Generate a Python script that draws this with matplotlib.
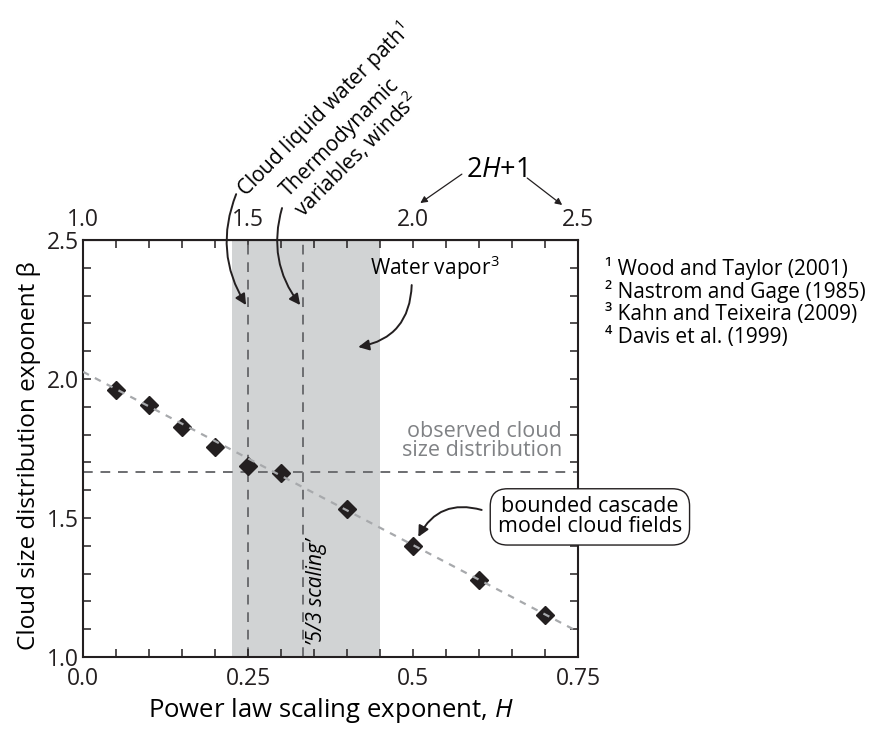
import numpy as np
import matplotlib
matplotlib.use("Agg")
import matplotlib.pyplot as plt
from matplotlib.ticker import MultipleLocator, FormatStrFormatter

plt.rcParams['font.family'] = ['Open Sans', 'DejaVu Sans']
plt.rcParams['mathtext.fontset'] = 'custom'
plt.rcParams['mathtext.rm'] = 'Open Sans'
plt.rcParams['mathtext.it'] = 'Open Sans:italic'

# bounded cascade model results
H_vals = [0.05, 0.10, 0.15, 0.20, 0.25, 0.30, 0.40, 0.50, 0.60, 0.70]
beta_vals = [1.960, 1.906, 1.829, 1.757, 1.686, 1.661, 1.531, 1.400, 1.277, 1.150]

# linear fit through the model points (end points)
fit_H = [0.0, 0.75]
fit_beta = [2.026, 1.091]

observed_beta = 5.0 / 3.0
lwp_H = 0.25          # cloud liquid water path
thermo_H = 1.0 / 3.0  # thermodynamic variables, winds
vapor_range = [0.225, 0.45]

refs = ["¹ Wood and Taylor (2001)",
        "² Nastrom and Gage (1985)",
        "³ Kahn and Teixeira (2009)",
        "⁴ Davis et al. (1999)"]

fig = plt.figure(figsize=(8.75, 7.3), dpi=100)
ax = fig.add_axes([0.0949, 0.1, 0.5657, 0.5712])

ax.axvspan(vapor_range[0], vapor_range[1], color='#d1d3d4', lw=0, zorder=0)
ax.axvline(lwp_H, color='#6d6e71', ls=(0, (5, 4)), lw=1.4, zorder=1)
ax.axvline(thermo_H, color='#6d6e71', ls=(0, (5, 4)), lw=1.4, zorder=1)
ax.axhline(observed_beta, color='#6d6e71', ls=(0, (5, 4)), lw=1.4, zorder=1)

ax.plot(H_vals, beta_vals, 'D', color='#231f20', ms=9, mec='#231f20', zorder=3)
ax.plot(fit_H, fit_beta, color='#a7a9ac', ls=(0, (3, 3)), lw=1.6, zorder=4)

ax.set_xlim(0, 0.75)
ax.set_ylim(1.0, 2.5)
ax.xaxis.set_major_locator(MultipleLocator(0.25))
ax.xaxis.set_minor_locator(MultipleLocator(0.05))
ax.yaxis.set_major_locator(MultipleLocator(0.5))
ax.yaxis.set_minor_locator(MultipleLocator(0.1))
ax.xaxis.set_major_formatter(lambda v, p: '0.0' if v == 0 else ('%g' % v))
ax.yaxis.set_major_formatter(FormatStrFormatter('%.1f'))
ax.tick_params(which='both', direction='in', length=6, width=1.1, right=True,
               labelsize=16.5, colors='#231f20')
ax.tick_params(axis='x', pad=7)
ax.tick_params(axis='y', pad=3)
for s in ax.spines.values():
    s.set_linewidth(1.5)
    s.set_color('#231f20')

top = ax.secondary_xaxis('top', functions=(lambda h: 2 * h + 1, lambda b: (b - 1) / 2))
top.xaxis.set_major_locator(MultipleLocator(0.5))
top.xaxis.set_minor_locator(MultipleLocator(0.1))
top.xaxis.set_major_formatter(FormatStrFormatter('%.1f'))
top.tick_params(which='both', direction='in', length=6, width=1.1, labelsize=16.5,
                pad=6, colors='#231f20')

ax.set_xlabel('Power law scaling exponent, $H$', fontsize=18.5, labelpad=4)
ax.set_ylabel('Cloud size distribution exponent β', fontsize=17.5)
ax.yaxis.set_label_coords(-0.085, 0.482)

arrow = dict(arrowstyle='-|>', color='#231f20', lw=1.4, shrinkA=0, shrinkB=0,
             mutation_scale=16)

# rotated labels above the plot
ax.text(0.364, 2.968, 'Cloud liquid water path$^1$', rotation=45, fontsize=15,
        ha='center', va='center', rotation_mode='anchor', clip_on=False)
ax.text(0.403, 2.835, 'Thermodynamic\nvariables, winds$^2$', rotation=45, fontsize=15,
        ha='center', va='center', rotation_mode='anchor', linespacing=0.95,
        clip_on=False)
ax.annotate('', xy=(0.247, 2.266), xytext=(0.232, 2.665), annotation_clip=False,
            arrowprops=dict(connectionstyle='arc3,rad=0.25', **arrow))
ax.annotate('', xy=(0.329, 2.266), xytext=(0.3015, 2.615), annotation_clip=False,
            arrowprops=dict(connectionstyle='arc3,rad=0.25', **arrow))

# 2H+1 label for top axis
ax.text(0.626, 2.752, '2$H$+1', fontsize=19.5, ha='center', va='center')
small = dict(arrowstyle='-|>', color='#231f20', lw=0.9, shrinkA=0, shrinkB=0,
             mutation_scale=10)
ax.annotate('', xy=(0.511, 2.633), xytext=(0.574, 2.737), annotation_clip=False,
            arrowprops=small)
ax.annotate('', xy=(0.726, 2.626), xytext=(0.673, 2.723), annotation_clip=False,
            arrowprops=small)

# water vapor
ax.text(0.533, 2.399, 'Water vapor$^3$', fontsize=15, ha='center', va='center')
ax.annotate('', xy=(0.417, 2.115), xytext=(0.498, 2.338),
            arrowprops=dict(connectionstyle='arc3,rad=-0.4', **arrow))

ax.text(0.726, 1.777, 'observed cloud\nsize distribution', fontsize=15.5,
        color='#808285', ha='right', va='center', linespacing=0.92)

ax.text(0.353, 1.234, '’5/3 scaling’', fontsize=15, style='italic',
        rotation=90, ha='center', va='center')

ax.text(0.768, 1.504, 'bounded cascade\nmodel cloud fields', fontsize=15.5,
        ha='center', va='center', linespacing=0.95, clip_on=False, zorder=6,
        bbox=dict(boxstyle='round,pad=0.35,rounding_size=0.8', fc='white',
                  ec='#231f20', lw=1.0))
ax.annotate('', xy=(0.508, 1.432), xytext=(0.604, 1.529),
            arrowprops=dict(connectionstyle='arc3,rad=0.4', **arrow))

for i, r in enumerate(refs):
    ax.text(0.791, 2.399 - i * 0.0835, r, fontsize=15, ha='left', va='center',
            clip_on=False)

fig.savefig('out.png', dpi=100)
